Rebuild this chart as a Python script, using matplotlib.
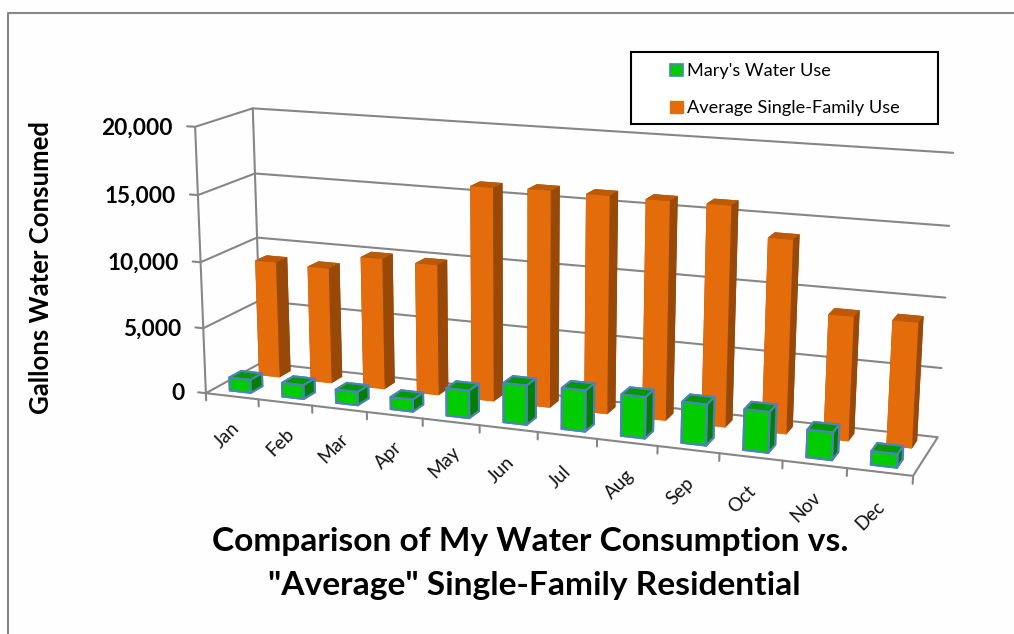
import numpy as np
import matplotlib
matplotlib.use('Agg')
from matplotlib import pyplot as plt
from matplotlib.lines import Line2D
from matplotlib.patches import Patch, Rectangle
from mpl_toolkits.mplot3d import Axes3D, proj3d  # noqa

plt.rcParams['font.family'] = ['Lato', 'DejaVu Sans']

months = ['Jan', 'Feb', 'Mar', 'Apr', 'May', 'Jun', 'Jul', 'Aug', 'Sep', 'Oct', 'Nov', 'Dec']
mary = [1000, 1050, 1000, 900, 2050, 2900, 3000, 3000, 2950, 2900, 1950, 950]
average = [9000, 8900, 10000, 9900, 15950, 16050, 16000, 15950, 15950, 13900, 8900, 8900]
yticks = [0, 5000, 10000, 15000, 20000]

W, H = 1014, 634
GRID = '#868686'

# corners of the chart box: (month pos, series pos, gallons) -> picture pixel
corners = [
    ((0, 0, 0), (208, 392)),
    ((12, 0, 0), (913, 477)),
    ((12, 2, 0), (938, 436)),
    ((0, 2, 0), (259, 364)),
    ((0, 0, 20000), (193, 127)),
    ((0, 2, 20000), (255, 108)),
    ((12, 2, 20000), (953, 153)),
]

fig = plt.figure(figsize=(W / 100, H / 100), dpi=100, facecolor='#fefefe')
# 3d axes always stay square, so let it stick out of the figure
ax = fig.add_axes([0, (H - W) / 2 / H, 1, W / H], projection='3d')
ax.apply_aspect()
ax.set_axis_off()
ax.patch.set_visible(False)
ax.computed_zorder = False


def fit_projection():
    # excel's perspective is not a real camera, fit a homography to the corners
    to_view = ax.transData.inverted()
    S = np.diag([1 / 12, 1 / 2, 1 / 20000, 1])
    rows = []
    for p, (px, py) in corners:
        u, v = to_view.transform((px, H - py))
        q = S @ np.array([*p, 1.0])
        rows.append(np.r_[q, np.zeros(4), -u * q])
        rows.append(np.r_[np.zeros(4), q, -v * q])
    h = np.linalg.svd(np.array(rows))[2][-1].reshape(3, 4) @ S
    if h[2, 3] < 0:
        h = -h
    # mplot3d masks points with positive depth, keep all of them negative
    depth = np.array([-0.1, 1.0, -1e-5, -5.0]) * h[2, 3]
    return np.vstack([h[0], h[1], depth, h[2]])


M = fit_projection()
ax.get_proj = lambda: M
ax.M = M


def line3(xs, ys, zs, lw=1.5):
    ax.plot(xs, ys, zs, color=GRID, lw=lw, zorder=1, solid_capstyle='round')


def label3(x, y, z, s, **kw):
    # Text3D throws away rotation, so project by hand and use a plain annotation
    u, v, _ = proj3d.proj_transform(x, y, z, M)
    ax.annotate(s, (u, v), xycoords='data', zorder=50, annotation_clip=False, **kw)


# walls and floor
for v in yticks[1:]:
    line3([-0.15, 0, 0, 12], [0, 0, 2, 2], [v, v, v, v])
line3([-0.15, 0, 12, 12, 0, 0], [0, 0, 0, 2, 2, 0], [0, 0, 0, 0, 0, 0])
line3([0, 0], [0, 0], [0, yticks[-1]])
line3([0, 0], [2, 2], [0, yticks[-1]])
for i in range(13):
    line3([i, i], [0, 0], [0, -550])


def bars(values, x0, y0, front, top, side, edge, lw, zbase):
    # order in bar3d: bottom, top, front, back, left, right
    faces = [front, top, front, side, side, side]
    for i, v in enumerate(values):
        col = ax.bar3d([i + x0], [y0], [0], 0.4, 0.42, v, color=faces, shade=False,
                       edgecolor=edge, linewidth=lw, zorder=zbase + i)
        col.set_zsort('average')


bars(average, 0.33, 1.29, '#E46C0A', '#BC5A08', '#984807', 'none', 0, 10)
bars(mary, 0.3, 0.29, '#00CC00', '#009900', '#007F00', '#4F81BD', 1.5, 30)

# tick labels
for v in yticks:
    label3(-0.42, 0, v - 220, f'{v:,}', ha='right', va='center', fontsize=16.3,
           fontweight='bold', color='black')
for i, m in enumerate(months):
    label3(i + 0.38, 0, -3100, m, ha='center', va='center', rotation=45, fontsize=13.5,
           color='#111111')


def fx(px):
    return px / W


def fy(py):
    return 1 - py / H


fig.text(fx(41), fy(268), 'Gallons Water Consumed', rotation=90, ha='center', va='center',
         fontsize=18.5, fontweight='bold')
fig.text(fx(530), fy(542), 'Comparison of My Water Consumption vs.', ha='center', va='center',
         fontsize=24.1, fontweight='bold')
fig.text(fx(534), fy(586), '"Average" Single-Family Residential', ha='center', va='center',
         fontsize=24.1, fontweight='bold')

# outer chart frame, cut by the screenshot on the right and bottom
fig.add_artist(Line2D([fx(8), fx(8), fx(W)], [fy(H), fy(13), fy(13)], color='#888888', lw=1.5))

# legend box
fig.add_artist(Rectangle((fx(631), fy(124)), 307 / W, 72 / H, transform=fig.transFigure,
                         fc='white', ec='black', lw=1.5))
handles = [Patch(fc='#00CC00', ec='#4F81BD', lw=1.2), Patch(fc='#E46C0A', ec='#E46C0A')]
fig.legend(handles, ["Mary's Water Use", 'Average Single-Family Use'], loc='upper left',
           bbox_to_anchor=(fx(665), fy(58)), frameon=False, fontsize=13.1, labelspacing=1.15,
           handlelength=0.68, handleheight=0.68, handletextpad=0.25, borderpad=0.3, borderaxespad=0)

fig.savefig('out.png', dpi=100, facecolor=fig.get_facecolor())
